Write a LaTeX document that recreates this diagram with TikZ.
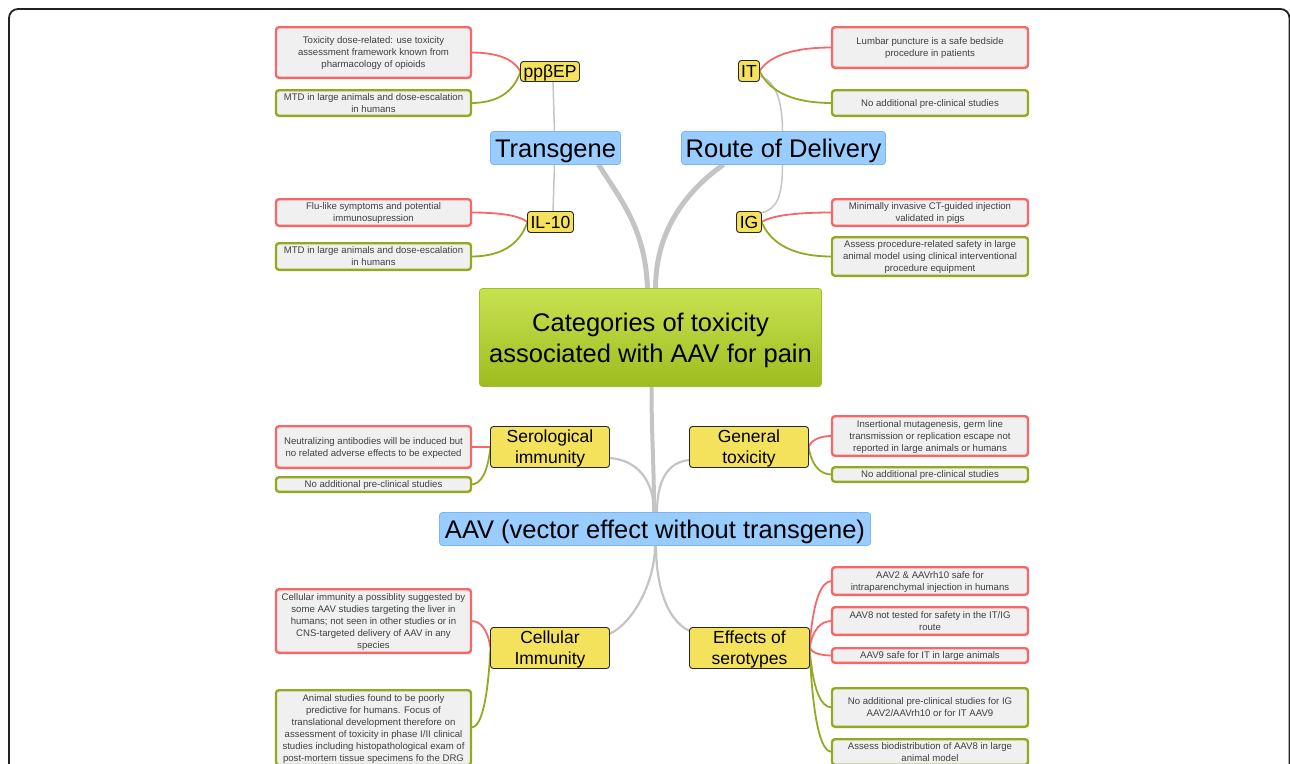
\documentclass[tikz,border=0pt]{standalone}
\usepackage{fontspec}
\setmainfont{Liberation Sans}
\usetikzlibrary{calc}
\definecolor{leafred}{RGB}{246,104,104}
\definecolor{leafgreen}{RGB}{150,168,34}
\definecolor{leaffill}{RGB}{240,240,240}
\definecolor{leaftext}{RGB}{64,64,64}
\definecolor{catyellow}{RGB}{245,226,92}
\definecolor{topblue}{RGB}{153,204,255}
\definecolor{topblueb}{RGB}{125,180,245}
\definecolor{linkgray}{RGB}{196,196,196}
\definecolor{centop}{RGB}{200,226,80}
\definecolor{cenbot}{RGB}{158,188,32}
\definecolor{cenborder}{RGB}{160,190,40}
\definecolor{framec}{RGB}{35,35,35}
\pgfdeclarelayer{background}
\pgfsetlayers{background,main}
\begin{document}
\begin{tikzpicture}[x=1pt,y=-1pt,
  leaf/.style={rounded corners=3pt, fill=leaffill, line width=2.4pt, text=leaftext,
    font=\fontsize{9.6}{12}\selectfont, align=center, inner sep=0pt, outer sep=0pt, text depth=0pt},
  leafr/.style={leaf, draw=leafred},
  leafg/.style={leaf, draw=leafgreen},
  one/.style={text height=6.9pt},
  two/.style={text height=18.9pt},
  three/.style={text height=30.9pt},
  five/.style={text height=54.9pt},
  six/.style={text height=66.9pt},
  cat/.style={rounded corners=3pt, fill=catyellow, draw=black!85, line width=0.9pt,
    font=\fontsize{17.5}{21}\selectfont, align=center, inner sep=0pt, outer sep=0pt,
    text height=12.5pt, text depth=0pt},
  cat2/.style={cat, text height=33.5pt},
  topic/.style={rounded corners=3pt, fill=topblue, draw=topblueb, line width=0.8pt,
    font=\fontsize{25.5}{31}\selectfont, inner sep=0pt, outer sep=0pt,
    text height=18.3pt, text depth=0pt},
  central/.style={rounded corners=3pt, top color=centop, bottom color=cenbot, draw=cenborder,
    line width=0.8pt, font=\fontsize{25.5}{31}\selectfont, align=center, inner sep=0pt, outer sep=0pt,
    text height=49.3pt, text depth=0pt},
  mainlink/.style={draw=linkgray, line width=5pt},
  sublink/.style={draw=linkgray, line width=2.2pt},
  thinlink/.style={draw=linkgray, line width=1.5pt},
  redlink/.style={draw=leafred, line width=1.8pt},
  greenlink/.style={draw=leafgreen, line width=1.8pt},
  leafcurve/.style={to path={let \p1=(\tikztostart), \p2=(\tikztotarget) in
    .. controls ({\x1+0.15*(\x2-\x1)},{\y1+0.7*(\y2-\y1)}) and ({\x1+0.5*(\x2-\x1)},{\y2}) .. (\tikztotarget)}}
]
\useasboundingbox (0,0) rectangle (1290,763);
\draw[framec, line width=1.8pt, rounded corners=9pt] (9,9) rectangle (1289.5,800);

% central and topics
\node[central, minimum width=342, minimum height=98] (cen) at (650.5,337.5) {Categories of toxicity\\associated with AAV for pain};
\node[topic, minimum width=130, minimum height=33] (tg) at (555.5,148) {Transgene};
\node[topic, minimum width=204, minimum height=33] (ro) at (783.5,148) {Route of Delivery};
\node[topic, minimum width=431, minimum height=33] (aav) at (655,529) {AAV (vector effect without transgene)};

% categories
\node[cat, minimum width=59, minimum height=20] (pp) at (550,71.5) {ppβEP};
\node[cat, minimum width=21, minimum height=21] (it) at (749,71) {IT};
\node[cat, minimum width=46, minimum height=21] (il) at (550.5,222) {IL-10};
\node[cat, minimum width=25, minimum height=21] (ig) at (749,222) {IG};
\node[cat2, minimum width=119, minimum height=41] (ser) at (550,447) {Serological\\immunity};
\node[cat2, minimum width=119, minimum height=41] (gen) at (749,447) {General\\toxicity};
\node[cat2, minimum width=119, minimum height=41] (cel) at (550,648) {Cellular\\Immunity};
\node[cat2, minimum width=120, minimum height=41] (eff) at (749.5,648) {Effects of\\serotypes};

% left leaves
\node[leafr, three, minimum width=195, minimum height=50.6] (L1) at (373.5,52.5) {Toxicity dose-related: use toxicity\\assessment framework known from\\pharmacology of opioids};
\node[leafg, two, minimum width=195, minimum height=25.6] (L2) at (373.5,103) {MTD in large animals and dose-escalation\\in humans};
\node[leafr, two, minimum width=195, minimum height=26.6] (L3) at (373.5,212.5) {Flu-like symptoms and potential\\immunosupression};
\node[leafg, two, minimum width=195, minimum height=26.6] (L4) at (373.5,256.5) {MTD in large animals and dose-escalation\\in humans};
\node[leafr, two, minimum width=195, minimum height=41.6] (L5) at (373.5,447) {Neutralizing antibodies will be induced but\\no related adverse effects to be expected};
\node[leafg, one, minimum width=195, minimum height=14.6] (L6) at (373.5,484.5) {No additional pre-clinical studies};
\node[leafr, five, minimum width=195, minimum height=63.6] (L7) at (373.5,621) {Cellular immunity a possiblity suggested by\\some AAV studies targeting the liver in\\humans; not seen in other studies or in\\CNS-targeted delivery of AAV in any\\species};
\node[leafg, six, minimum width=195, anchor=north, inner ysep=4pt] (L8) at (373.5,690.2) {Animal studies found to be poorly\\predictive for humans. Focus of\\translational development therefore on\\assessment of toxicity in phase I/II clinical\\studies including histopathological exam of\\post-mortem tissue specimens fo the DRG};

% right leaves
\node[leafr, two, minimum width=196, minimum height=40.6] (R1) at (930,47.5) {Lumbar puncture is a safe bedside\\procedure in patients};
\node[leafg, one, minimum width=196, minimum height=25.6] (R2) at (930,103) {No additional pre-clinical studies};
\node[leafr, two, minimum width=196, minimum height=26.6] (R3) at (930,212.5) {Minimally invasive CT-guided injection\\validated in pigs};
\node[leafg, three, minimum width=196, minimum height=38.6] (R4) at (930,256.5) {Assess procedure-related safety in large\\animal model using clinical interventional\\procedure equipment};
\node[leafr, three, minimum width=196, minimum height=39.6] (R5) at (930,436) {Insertional mutagenesis, germ line\\transmission or replication escape not\\reported in large animals or humans};
\node[leafg, one, minimum width=196, minimum height=14.6] (R6) at (930,474.5) {No additional pre-clinical studies};
\node[leafr, two, minimum width=196, minimum height=27.6] (R7) at (930,581) {AAV2 \& AAVrh10 safe for\\intraparenchymal injection in humans};
\node[leafr, two, minimum width=196, minimum height=27.6] (R8) at (930,621) {AAV8 not tested for safety in the IT/IG\\route};
\node[leafr, one, minimum width=196, minimum height=14.6] (R9) at (930,655.5) {AAV9 safe for IT in large animals};
\node[leafg, two, minimum width=196, minimum height=38.6] (R10) at (930,707.5) {No additional pre-clinical studies for IG\\AAV2/AAVrh10 or for IT AAV9};
\node[leafg, two, minimum width=196, minimum height=25.6, anchor=north] (R11) at (930,739.2) {Assess biodistribution of AAV8 in large\\animal model};

\begin{pgfonlayer}{background}
% main links
\draw[mainlink] ([xshift=43]tg.south) .. controls +(22,35) and +(-2,-60) .. ([xshift=-3]cen.north);
\draw[mainlink] ([xshift=-60]ro.south) .. controls +(-35,25) and +(0,-60) .. ([xshift=5]cen.north);
\draw[draw=linkgray, line width=4pt] ([xshift=1]cen.south) .. controls +(0,50) and +(0,-50) .. ([xshift=-1]aav.north);
% AAV to categories
\draw[sublink] ([xshift=-1]aav.north) .. controls +(0,-32) and +(28,2) .. ([yshift=-11]ser.east);
\draw[sublink] ([xshift=2]aav.north) .. controls +(0,-32) and +(-22,2) .. ([yshift=-13]gen.west);
\draw[sublink] (aav.south) .. controls +(0,35) and +(25,-12) .. ([yshift=14]cel.east);
\draw[sublink] ([xshift=1]aav.south) .. controls +(0,35) and +(-25,-12) .. ([yshift=17]eff.west);
% topics to categories
\draw[thinlink] ([xshift=-1]tg.north) -- ([xshift=3]pp.south);
\draw[thinlink] ([xshift=-1]tg.south) -- ([xshift=2.5]il.north);
\draw[thinlink] ([xshift=-1]ro.north) .. controls +(0,-35) and +(14,4) .. ([yshift=-5]it.east);
\draw[thinlink] ([xshift=-1]ro.south) .. controls +(0,35) and +(14,-4) .. ([yshift=9]ig.east);
% leaves
\draw[redlink] (pp.west) to[leafcurve] (L1.east);
\draw[greenlink] (pp.west) to[leafcurve] (L2.east);
\draw[redlink] (il.west) to[leafcurve] (L3.east);
\draw[greenlink] (il.west) to[leafcurve] (L4.east);
\draw[redlink] (it.east) to[leafcurve] (R1.west);
\draw[greenlink] (it.east) to[leafcurve] (R2.west);
\draw[redlink] (ig.east) to[leafcurve] (R3.west);
\draw[greenlink] (ig.east) to[leafcurve] (R4.west);
\draw[redlink] (ser.west) to[leafcurve] (L5.east);
\draw[greenlink] (ser.west) to[leafcurve] (L6.east);
\draw[redlink] (gen.east) to[leafcurve] (R5.west);
\draw[greenlink] (gen.east) to[leafcurve] (R6.west);
\draw[redlink] (cel.west) to[leafcurve] (L7.east);
\draw[greenlink] (cel.west) to[leafcurve] (L8.east);
\draw[redlink] (eff.east) to[leafcurve] (R7.west);
\draw[redlink] (eff.east) to[leafcurve] (R8.west);
\draw[redlink] (eff.east) to[leafcurve] (R9.west);
\draw[greenlink] (eff.east) to[leafcurve] (R10.west);
\draw[greenlink] (eff.east) to[leafcurve] (R11.west);
\end{pgfonlayer}
\end{tikzpicture}
\end{document}
